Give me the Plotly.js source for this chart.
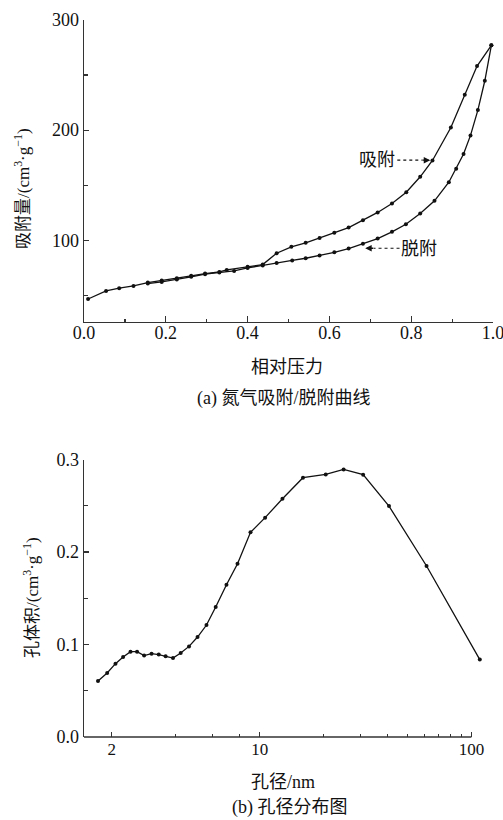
<!DOCTYPE html>
<html>
<head>
<meta charset="utf-8">
<script src="https://cdn.plot.ly/plotly-3.0.1.min.js"></script>
<style>html,body{margin:0;padding:0;background:#fff;}#chart{width:503px;height:820px;}</style>
</head>
<body>
<div id="chart"></div>
<script>
// (a) N2 adsorption / desorption isotherm
const adsP = [0.010,0.054,0.086,0.121,0.156,0.190,0.227,0.262,0.296,0.331,0.349,0.400,0.437,0.471,0.507,0.542,0.576,0.612,0.647,0.682,0.718,0.753,0.788,0.822,0.852,0.897,0.931,0.961,0.996];
const adsV = [46.6,53.9,56.4,58.5,61.5,63.3,65.5,67.6,69.7,71.2,73.0,75.8,77.9,88.2,94.0,97.6,102.0,106.7,111.5,118.2,125.2,133.3,143.6,157.6,172.4,202.4,232.1,258.2,277.0];
const desP = [0.996,0.980,0.963,0.945,0.928,0.910,0.892,0.857,0.822,0.787,0.753,0.718,0.682,0.647,0.612,0.576,0.542,0.509,0.471,0.437,0.400,0.367,0.331,0.296,0.262,0.227,0.190,0.156];
const desV = [277.0,244.8,218.2,195.2,178.2,164.8,152.7,135.8,124.2,114.5,107.6,101.5,96.7,92.4,89.0,86.0,83.6,81.6,79.4,77.0,74.8,72.1,70.6,69.1,66.7,64.2,62.1,60.6];

// (b) pore size distribution
const poreD = [1.72,1.90,2.08,2.26,2.45,2.63,2.84,3.08,3.33,3.59,3.89,4.23,4.63,5.08,5.60,6.19,6.96,7.85,9.04,10.6,12.8,16.0,20.5,24.9,30.8,40.8,61.4,109.6];
const poreV = [0.0605,0.0692,0.0793,0.0865,0.0923,0.0923,0.0880,0.0901,0.0891,0.0872,0.0854,0.0908,0.0980,0.1081,0.1211,0.1405,0.1647,0.1874,0.2213,0.2372,0.2577,0.2804,0.2840,0.2894,0.2837,0.2497,0.1849,0.0837];

// ticks
const topXTicks = [0, 0.2, 0.4, 0.6, 0.8, 1.0];
const topYTicks = [100, 200, 300];
const botXTicks = [2, 10, 100];
const botXTickText = ['2', '10', '100'];
const botXMinor = [4, 6, 8, 20, 30, 40, 50, 60, 70, 80, 90];
const botYTicks = [0, 0.1, 0.2, 0.3];

// texts
const labelAds = '吸附';
const labelDes = '脱附';
const topYTitle = '吸附量/(cm<sup>3</sup>·g<sup>−1</sup>)';
const topXTitle = '相对压力';
const capA = '(a) 氮气吸附/脱附曲线';
const botYTitle = '孔体积/(cm<sup>3</sup>·g<sup>−1</sup>)';
const botXTitle = '孔径/nm';
const capB = '(b) 孔径分布图';

const FONT = 'Liberation Serif, Noto Sans CJK SC, serif';
const TICKFONT = 'Liberation Serif, Times New Roman, serif';
const INK = '#111';
const AX = '#333';

const lineStyle = {color: INK, width: 1.3};
const mk = {color: INK, size: 4};

const traces = [
  {x: adsP, y: adsV, type: 'scatter', mode: 'lines+markers', line: lineStyle, marker: mk, xaxis: 'x', yaxis: 'y', cliponaxis: false},
  {x: desP, y: desV, type: 'scatter', mode: 'lines+markers', line: lineStyle, marker: mk, xaxis: 'x', yaxis: 'y', cliponaxis: false},
  {x: poreD, y: poreV, type: 'scatter', mode: 'lines+markers', line: lineStyle, marker: mk, xaxis: 'x2', yaxis: 'y2', cliponaxis: false}
];

const botRange = [0.1693, 2.05];
const botLineEnd = (2.0 - botRange[0]) / (botRange[1] - botRange[0]);

function axBase() {
  return {
    showline: true, linecolor: AX, linewidth: 1.3, ticks: 'inside', tickcolor: AX, tickwidth: 1.2,
    showgrid: false, zeroline: false, ticklabeloverflow: 'allow',
    tickfont: {family: TICKFONT, size: 18, color: INK}
  };
}

const layout = {
  width: 503, height: 820,
  margin: {l: 84, r: 10, t: 20, b: 83},
  paper_bgcolor: '#ffffff', plot_bgcolor: 'rgba(0,0,0,0)',
  showlegend: false,
  font: {family: FONT, size: 18, color: INK},
  xaxis: Object.assign(axBase(), {
    domain: [0, 1], anchor: 'y', range: [0, 1], tickmode: 'array', tickvals: topXTicks,
    tickformat: '.1f', ticklen: 6, ticklabelstandoff: -6,
    minor: {dtick: 0.1, tick0: 0, ticks: 'inside', ticklen: 3, tickcolor: AX, tickwidth: 1.2}
  }),
  yaxis: Object.assign(axBase(), {
    domain: [0.5788, 1], anchor: 'x', range: [25.7, 300], tickmode: 'array', tickvals: topYTicks,
    ticklen: 5,
    minor: {dtick: 50, tick0: 0, ticks: 'inside', ticklen: 4, tickcolor: AX, tickwidth: 1.2}
  }),
  xaxis2: Object.assign(axBase(), {
    domain: [0, 0.973], anchor: 'y2', type: 'log', range: botRange, showline: false,
    tickmode: 'array', tickvals: botXTicks, ticktext: botXTickText, ticklen: 5,
    tickfont: {family: TICKFONT, size: 17, color: INK},
    minor: {tickmode: 'array', tickvals: botXMinor, ticks: 'inside', ticklen: 3, tickcolor: AX, tickwidth: 1.2}
  }),
  yaxis2: Object.assign(axBase(), {
    domain: [0, 0.3869], anchor: 'x2', range: [0, 0.3], tickmode: 'array', tickvals: botYTicks,
    tickformat: '.1f', ticklen: 5,
    minor: {dtick: 0.05, tick0: 0, ticks: 'inside', ticklen: 4, tickcolor: AX, tickwidth: 1.2}
  }),
  shapes: [
    {type: 'line', xref: 'x2 domain', yref: 'y2 domain', x0: 0, x1: botLineEnd, y0: 0, y1: 0,
     line: {color: AX, width: 1.3}},
    {type: 'line', xref: 'x', yref: 'y', x0: 0.766, x1: 0.826, y0: 172.7, y1: 172.7,
     line: {color: INK, width: 1.2, dash: 'dot'}},
    {type: 'line', xref: 'x', yref: 'y', x0: 0.7715, x1: 0.708, y0: 92.7, y1: 92.7,
     line: {color: INK, width: 1.2, dash: 'dot'}}
  ],
  annotations: [
    {xref: 'x', yref: 'y', x: 0.716, y: 173, text: labelAds, showarrow: false, font: {size: 18, family: FONT, color: INK}},
    {xref: 'x', yref: 'y', x: 0.8466, y: 172.7, ax: -10, ay: 0, text: ' ', showarrow: true, arrowhead: 2, arrowsize: 1, arrowwidth: 1.3, arrowcolor: INK, font: {size: 4}},
    {xref: 'x', yref: 'y', x: 0.819, y: 92.2, text: labelDes, showarrow: false, font: {size: 18, family: FONT, color: INK}},
    {xref: 'x', yref: 'y', x: 0.6875, y: 92.7, ax: 10, ay: 0, text: ' ', showarrow: true, arrowhead: 2, arrowsize: 1, arrowwidth: 1.3, arrowcolor: INK, font: {size: 4}},
    {xref: 'paper', yref: 'paper', x: -0.1516, y: 0.7657, text: topYTitle, textangle: -90, showarrow: false, xanchor: 'center', yanchor: 'middle', font: {size: 17, family: FONT, color: INK}},
    {xref: 'paper', yref: 'paper', x: 0.4963, y: 0.516, text: topXTitle, showarrow: false, xanchor: 'center', yanchor: 'middle', font: {size: 18, family: FONT, color: INK}},
    {xref: 'paper', yref: 'paper', x: 0.4866, y: 0.4728, text: capA, showarrow: false, xanchor: 'center', yanchor: 'middle', font: {size: 18, family: FONT, color: INK}},
    {xref: 'paper', yref: 'paper', x: -0.1296, y: 0.1953, text: botYTitle, textangle: -90, showarrow: false, xanchor: 'center', yanchor: 'middle', font: {size: 17, family: FONT, color: INK}},
    {xref: 'paper', yref: 'paper', x: 0.4866, y: -0.0628, text: botXTitle, showarrow: false, xanchor: 'center', yanchor: 'middle', font: {size: 18, family: FONT, color: INK}},
    {xref: 'paper', yref: 'paper', x: 0.5037, y: -0.099, text: capB, showarrow: false, xanchor: 'center', yanchor: 'middle', font: {size: 18, family: FONT, color: INK}}
  ]
};

Plotly.newPlot('chart', traces, layout, {staticPlot: true, displayModeBar: false});
</script>
</body>
</html>
